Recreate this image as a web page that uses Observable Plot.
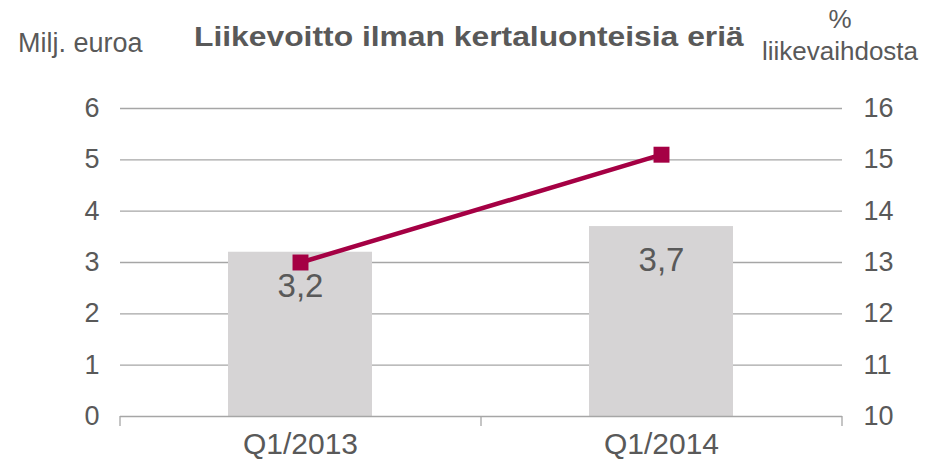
<!DOCTYPE html>
<html><head><meta charset="utf-8">
<script src="https://cdn.jsdelivr.net/npm/d3@7"></script>
<script src="https://cdn.jsdelivr.net/npm/@observablehq/plot@0.6"></script>
<style>
body{margin:0;background:#fff;font-family:"Liberation Sans",Arial,sans-serif;color:#595959}
#head{position:relative;width:925px;height:70px}
#head div{position:absolute;white-space:nowrap;line-height:1}
</style></head><body>
<div id="head">
  <div style="left:18px;top:30px;font-size:27px">Milj. euroa</div>
  <div style="left:194px;top:23px;font-size:28px;font-weight:bold;transform:scaleX(1.136);transform-origin:left center">Liikevoitto ilman kertaluonteisia eriä</div>
  <div style="left:760px;width:160px;text-align:center;top:6px;font-size:26px">%</div>
  <div style="left:760px;width:160px;text-align:center;top:38px;font-size:26px">liikevaihdosta</div>
</div>
<div id="chart"></div>
<script>
const categories = ["Q1/2013", "Q1/2014"];
const profit = [3.2, 3.7];          // Milj. euroa (left axis)
const margin = [13.0, 15.1];        // % liikevaihdosta (right axis)
const leftTicks = [0, 1, 2, 3, 4, 5, 6];
const rightTicks = [10, 11, 12, 13, 14, 15, 16];
const rightOffset = 10;

const data = categories.map((c, i) => ({cat: c, profit: profit[i], pct: margin[i]}));
const fmt = d => d.toFixed(1).replace(".", ",");
const grey = "#595959";

const edgeTicks = (index, scales, values, dim) => {
  const g = d3.create("svg:g");
  const n = categories.length;
  const pw = dim.width - dim.marginLeft - dim.marginRight;
  const y0 = scales.y(0);
  for (let i = 0; i <= n; i++) {
    const x = dim.marginLeft + i * pw / n;
    g.append("line").attr("x1", x).attr("x2", x).attr("y1", y0).attr("y2", y0 + 10)
      .attr("stroke", "#a6a6a6").attr("stroke-width", 1.3);
  }
  return g.node();
};

const chart = Plot.plot({
  width: 925, height: 397,
  marginLeft: 120, marginRight: 83, marginTop: 38, marginBottom: 51,
  style: {fontFamily: "Liberation Sans, Arial, sans-serif", color: grey, background: "#fff", overflow: "visible"},
  x: {type: "band", domain: categories, paddingInner: 0.6, paddingOuter: 0.3},
  y: {domain: [0, 6]},
  marks: [
    Plot.gridY(leftTicks.filter(d => d > 0), {stroke: "#a6a6a6", strokeOpacity: 1, strokeWidth: 1.3}),
    Plot.barY(data, {x: "cat", y: "profit", fill: "#d6d4d5"}),
    Plot.ruleY([0], {stroke: "#a6a6a6", strokeWidth: 1.3}),
    edgeTicks,
    Plot.axisY({ticks: leftTicks, tickFormat: d => String(d), tickSize: 0, tickPadding: 21, fontSize: 27, label: null, fill: grey}),
    Plot.axisY({anchor: "right", ticks: rightTicks.map(d => d - rightOffset), tickFormat: d => String(d + rightOffset),
      tickSize: 0, tickPadding: 21, fontSize: 27, label: null, fill: grey}),
    Plot.axisX({tickSize: 0, tickPadding: 16, fontSize: 30, label: null, fill: grey}),
    Plot.text(data, {x: "cat", y: "profit", text: d => fmt(d.profit), dy: 34, fontSize: 33, fill: grey}),
    Plot.line(data, {x: "cat", y: d => d.pct - rightOffset, stroke: "#a50044", strokeWidth: 4.5}),
    Plot.dot(data, {x: "cat", y: d => d.pct - rightOffset, symbol: "square", r: 9, fill: "#a50044"})
  ]
});
document.getElementById("chart").append(chart);
</script>
</body></html>
